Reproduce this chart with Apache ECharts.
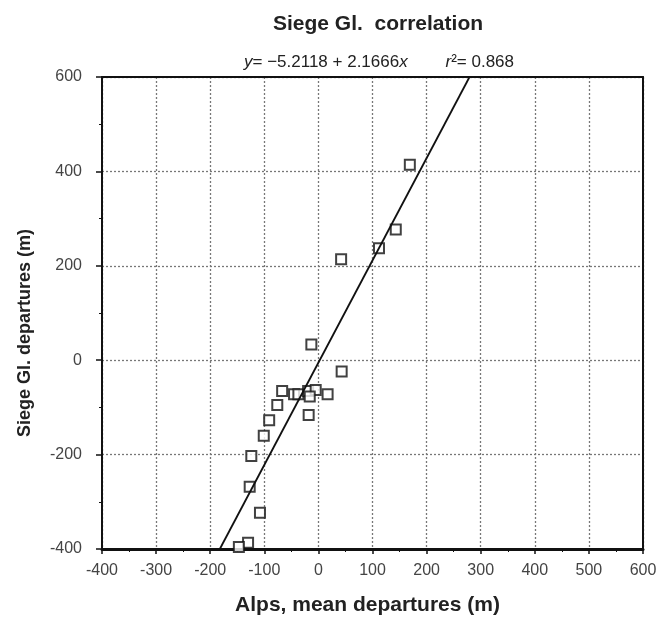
<!DOCTYPE html>
<html>
<head>
<meta charset="utf-8">
<script src="https://cdn.jsdelivr.net/npm/echarts@6/dist/echarts.min.js"></script>
<style>
html,body{margin:0;padding:0;background:#fff;}
#chart{width:667px;height:621px;}
</style>
</head>
<body>
<div id="chart"></div>
<script>
// Data (Alps mean departures vs Siege Gl. departures, m)
const alpsX = [169, 143, 112, 42, -13, 43, -67, -45, -37, -19, -5, -16, 17, -18, -76, -91, -101, -124, -127, -108, -130, -147];
const siegeY = [414, 277, 237, 214, 33, -24, -65, -72, -72, -65, -63, -77, -72, -116, -95, -127, -160, -203, -268, -323, -387, -396];
// Regression coefficients printed on the chart
const intercept = [-5.2118];
const slope = [2.1666];
const r2 = [0.868];
const xRange = [-400, 600];
const yRange = [-400, 600];

const points = alpsX.map((x, i) => [x, siegeY[i]]);
const a = intercept[0], b = slope[0];
const lineData = [[(yRange[0] - a) / b, yRange[0]], [(yRange[1] - a) / b, yRange[1]]];

const FONT = 'Liberation Sans, Arial, sans-serif';
const chart = echarts.init(document.getElementById('chart'), null, {renderer: 'canvas'});
chart.setOption({
  backgroundColor: '#fff',
  animation: false,
  title: [
    {
      text: 'Siege Gl.  correlation',
      left: 373,
      textAlign: 'center',
      top: 9,
      textStyle: {fontFamily: FONT, fontSize: 21, fontWeight: 'bold', color: '#222'}
    },
    {
      text: '{i|y}= \u2212' + Math.abs(a).toFixed(4) + ' + ' + b.toFixed(4) + '{i|x}        {i|r}\u00b2= ' + r2[0].toFixed(3),
      left: 374,
      textAlign: 'center',
      top: 49,
      textStyle: {
        fontFamily: FONT, fontSize: 17, fontWeight: 'normal', color: '#222',
        rich: {i: {fontFamily: FONT, fontSize: 17, fontStyle: 'italic', color: '#222'}}
      }
    }
  ],
  grid: {left: 102, right: 24, top: 77, bottom: 72},
  xAxis: [
    {
      type: 'value', min: xRange[0], max: xRange[1], interval: 100,
      name: 'Alps, mean departures (m)', nameLocation: 'middle', nameGap: 46,
      nameTextStyle: {fontFamily: FONT, fontSize: 21, fontWeight: 'bold', color: '#222', padding: [0, 10, 0, 0]},
      axisLine: {show: true, onZero: false, lineStyle: {color: '#111', width: 3}},
      axisTick: {show: true, inside: false, length: 5, lineStyle: {color: '#111', width: 1.5}},
      minorTick: {show: true, splitNumber: 2, length: 3, lineStyle: {color: '#111', width: 1}},
      axisLabel: {fontFamily: FONT, fontSize: 16, color: '#444', margin: 14},
      splitLine: {show: true, lineStyle: {color: '#777', type: [2, 2], width: 1.3}}
    },
    {
      type: 'value', position: 'top', min: xRange[0], max: xRange[1],
      axisLine: {show: true, onZero: false, lineStyle: {color: '#111', width: 2}},
      axisTick: {show: false}, axisLabel: {show: false}, splitLine: {show: false}
    }
  ],
  yAxis: [
    {
      type: 'value', min: yRange[0], max: yRange[1], interval: 200,
      name: 'Siege Gl. departures (m)', nameLocation: 'middle', nameGap: 68,
      nameTextStyle: {fontFamily: FONT, fontSize: 18, fontWeight: 'bold', color: '#222', padding: [0, 40, 0, 0]},
      axisLine: {show: true, onZero: false, lineStyle: {color: '#111', width: 2}},
      axisTick: {show: true, inside: false, length: 6, lineStyle: {color: '#111', width: 1.5}},
      minorTick: {show: true, splitNumber: 2, length: 3, lineStyle: {color: '#111', width: 1}},
      axisLabel: {fontFamily: FONT, fontSize: 16, color: '#444', margin: 20},
      splitLine: {show: true, lineStyle: {color: '#777', type: [2, 2], width: 1.3}}
    },
    {
      type: 'value', position: 'right', min: yRange[0], max: yRange[1],
      axisLine: {show: true, onZero: false, lineStyle: {color: '#111', width: 2}},
      axisTick: {show: false}, axisLabel: {show: false}, splitLine: {show: false}
    }
  ],
  series: [
    {
      type: 'scatter',
      data: points,
      symbol: 'rect',
      symbolSize: 10,
      itemStyle: {color: '#fff', borderColor: '#111', borderWidth: 2},
      z: 2
    },
    {
      type: 'line',
      data: lineData,
      showSymbol: false,
      symbol: 'none',
      lineStyle: {color: '#111', width: 1.8},
      z: 3
    }
  ]
});
</script>
</body>
</html>
